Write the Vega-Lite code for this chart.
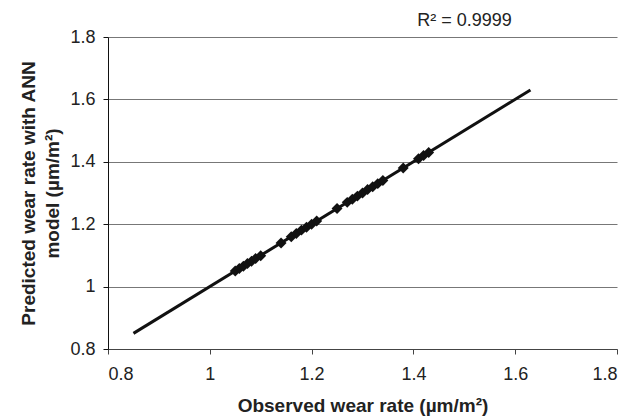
{
  "$schema": "https://vega.github.io/schema/vega-lite/v6.json",
  "width": 509,
  "height": 312,
  "autosize": {"type": "none"},
  "padding": {"left": 108, "top": 37, "right": 27, "bottom": 67},
  "background": "white",
  "title": {
    "text": "R² = 0.9999",
    "anchor": "middle",
    "frame": "group",
    "dx": 102,
    "offset": -2,
    "fontSize": 18,
    "fontWeight": "normal",
    "font": "Liberation Sans",
    "color": "#222"
  },
  "config": {
    "view": {"stroke": null},
    "font": "Liberation Sans"
  },
  "datasets": {
    "pts": [
      {"observed": 1.050, "predicted": 1.050},
      {"observed": 1.058, "predicted": 1.058},
      {"observed": 1.066, "predicted": 1.065},
      {"observed": 1.074, "predicted": 1.074},
      {"observed": 1.082, "predicted": 1.081},
      {"observed": 1.090, "predicted": 1.090},
      {"observed": 1.100, "predicted": 1.099},
      {"observed": 1.140, "predicted": 1.140},
      {"observed": 1.160, "predicted": 1.160},
      {"observed": 1.170, "predicted": 1.170},
      {"observed": 1.180, "predicted": 1.181},
      {"observed": 1.190, "predicted": 1.190},
      {"observed": 1.200, "predicted": 1.200},
      {"observed": 1.210, "predicted": 1.210},
      {"observed": 1.250, "predicted": 1.250},
      {"observed": 1.270, "predicted": 1.270},
      {"observed": 1.280, "predicted": 1.280},
      {"observed": 1.290, "predicted": 1.290},
      {"observed": 1.300, "predicted": 1.300},
      {"observed": 1.310, "predicted": 1.311},
      {"observed": 1.320, "predicted": 1.320},
      {"observed": 1.330, "predicted": 1.330},
      {"observed": 1.340, "predicted": 1.340},
      {"observed": 1.380, "predicted": 1.380},
      {"observed": 1.410, "predicted": 1.410},
      {"observed": 1.420, "predicted": 1.420},
      {"observed": 1.430, "predicted": 1.430}
    ],
    "fit": [
      {"observed": 0.85, "predicted": 0.85},
      {"observed": 1.63, "predicted": 1.63}
    ]
  },
  "encoding": {
    "x": {
      "field": "observed",
      "type": "quantitative",
      "scale": {"domain": [0.8, 1.8], "nice": false, "zero": false},
      "axis": {
        "title": "Observed wear rate (µm/m²)",
        "values": [0.8, 1.0, 1.2, 1.4, 1.6, 1.8],
        "format": ".1~f",
        "grid": false,
        "domainColor": "#444",
        "tickColor": "#444",
        "tickSize": 5,
        "labelPadding": 11,
        "labelFontSize": 18,
        "labelColor": "#222",
        "labelFont": "Liberation Sans",
        "titleFontSize": 19,
        "titleFontWeight": "bold",
        "titleColor": "#222",
        "titleFont": "Liberation Sans",
        "titlePadding": 13
      }
    },
    "y": {
      "field": "predicted",
      "type": "quantitative",
      "scale": {"domain": [0.8, 1.8], "nice": false, "zero": false},
      "axis": {
        "title": ["Predicted wear rate with ANN", "model (µm/m²)"],
        "values": [0.8, 1.0, 1.2, 1.4, 1.6, 1.8],
        "format": ".1~f",
        "grid": true,
        "gridColor": "#777",
        "gridWidth": 1,
        "gridOpacity": 1,
        "domainColor": "#111",
        "tickColor": "#111",
        "tickSize": 5,
        "labelPadding": 8,
        "labelFontSize": 18,
        "labelColor": "#222",
        "labelFont": "Liberation Sans",
        "titleFontSize": 19,
        "titleFontWeight": "bold",
        "titleColor": "#222",
        "titleFont": "Liberation Sans",
        "titleLineHeight": 24,
        "titlePadding": 7
      }
    }
  },
  "layer": [
    {
      "data": {"name": "fit"},
      "mark": {"type": "line", "color": "#111", "strokeWidth": 3, "clip": false}
    },
    {
      "data": {"name": "pts"},
      "mark": {"type": "point", "shape": "diamond", "filled": true, "color": "#111", "size": 120, "opacity": 1}
    }
  ]
}
